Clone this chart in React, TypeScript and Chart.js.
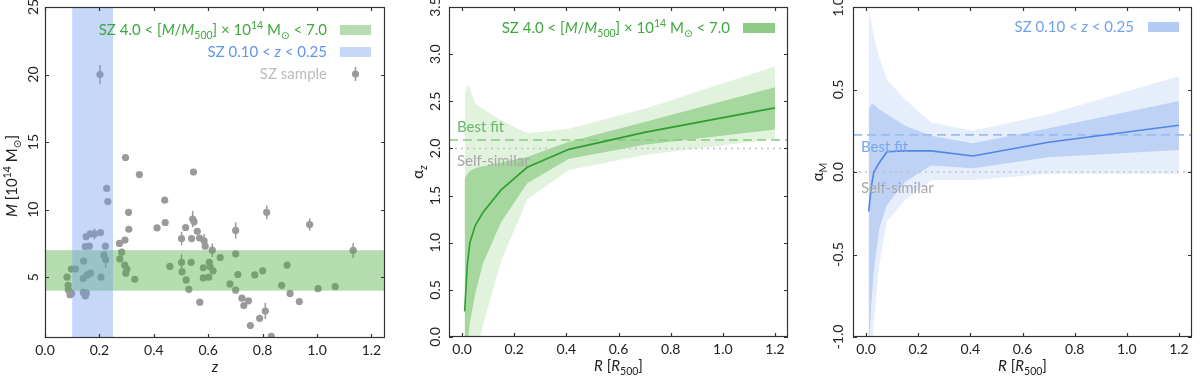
import React, { useEffect, useRef } from "react";
import { Chart, registerables } from "chart.js";

Chart.register(...registerables);

// ---------------- data ----------------
const szRedshift = [
  0.202, 0.296, 0.347, 0.546, 0.227, 0.231, 0.44, 0.307, 0.815, 0.442,
  0.543, 0.548, 0.973, 0.412, 0.308, 0.517, 0.701, 0.56, 0.166, 0.182,
  0.204, 0.151, 0.502, 0.539, 0.568, 0.585, 0.294, 0.274, 0.222, 0.163,
  0.148, 0.589, 0.615, 1.133, 0.701, 0.216, 0.282, 0.644, 0.223, 0.275,
  0.142, 0.537, 0.502, 0.604, 0.89, 0.293, 0.607, 0.459, 0.582, 0.097,
  0.112, 0.301, 0.504, 0.618, 0.8, 0.297, 0.709, 0.771, 0.167, 0.155,
  0.081, 0.206, 0.582, 0.602, 0.141, 0.33, 0.519, 0.68, 0.87, 0.085,
  1.067, 1.004, 0.529, 0.701, 0.086, 0.098, 0.092, 0.141, 0.152, 0.148,
  0.901, 0.724, 0.935, 0.748, 0.569, 0.731, 0.81, 0.789, 0.755, 0.832,
];
const szMass = [
  20.0, 13.86, 12.6, 12.78, 11.57, 10.6, 10.7, 9.8, 9.8, 9.05,
  9.3, 9.1, 8.9, 8.65, 8.55, 8.68, 8.46, 8.4, 8.2, 8.2,
  8.3, 8.0, 7.86, 7.86, 7.9, 7.7, 7.75, 7.5, 7.3, 7.3,
  7.27, 7.3, 7.0, 6.98, 6.73, 6.63, 6.85, 6.46, 6.3, 6.36,
  6.2, 6.1, 6.1, 6.1, 5.9, 5.9, 5.77, 5.8, 5.7, 5.6,
  5.6, 5.6, 5.4, 5.47, 5.47, 5.3, 5.2, 5.17, 5.3, 5.15,
  5.0, 5.0, 4.95, 5.0, 4.9, 4.85, 4.8, 4.5, 4.4, 4.4,
  4.3, 4.15, 4.1, 4.04, 4.06, 3.8, 3.7, 3.87, 3.82, 3.6,
  3.8, 3.45, 3.2, 3.25, 3.15, 2.9, 2.5, 1.96, 1.42, 0.63,
];
const szMassErr = [
  0.7, 0, 0, 0, 0, 0, 0, 0, 0.5, 0,
  0.6, 0, 0.45, 0, 0, 0, 0.6, 0, 0, 0.4,
  0, 0, 0.5, 0, 0, 0.5, 0, 0, 0, 0,
  0, 0, 0.5, 0.55, 0, 0, 0, 0, 0.6, 0,
  0, 0, 0.6, 0, 0, 0, 0, 0, 0, 0,
  0, 0, 0, 0, 0, 0, 0, 0, 0, 0,
  0, 0, 0, 0, 0, 0, 0, 0, 0, 0,
  0, 0, 0, 0, 0, 0, 0, 0, 0, 0,
  0, 0, 0, 0, 0, 0, 0.6, 0, 0, 0,
];
const massBin = [4.0, 7.0];
const redshiftBin = [0.1, 0.25];

const zTicks = [0, 0.2, 0.4, 0.6, 0.8, 1.0, 1.2];
const zTickLabels = ["0.0", "0.2", "0.4", "0.6", "0.8", "1.0", "1.2"];
const massTicks = [5, 10, 15, 20, 25];
const massTickLabels = ["5", "10", "15", "20", "25"];

const radius = [0.01, 0.02, 0.03, 0.05, 0.08, 0.15, 0.25, 0.41, 0.7, 1.2];

const alphaZMedian = [0.27, 0.76, 1.0, 1.18, 1.32, 1.56, 1.8, 1.99, 2.17, 2.43];
const alphaZ1Hi = [1.68, 1.73, 1.76, 1.79, 1.81, 1.85, 1.91, 2.07, 2.28, 2.65];
const alphaZ1Lo = [-0.6, -0.1, 0.15, 0.45, 0.78, 1.22, 1.63, 1.89, 2.04, 2.2];
const alphaZ2Hi = [2.55, 2.68, 2.63, 2.48, 2.42, 2.3, 2.16, 2.21, 2.42, 2.87];
const alphaZ2Lo = [-1.5, -1.0, -0.6, -0.22, 0.12, 0.81, 1.46, 1.77, 1.93, 2.1];
const alphaZBestFit = 2.09;
const alphaZSelfSimilar = 2.0;

const alphaMMedian = [-0.24, -0.09, 0.0, 0.055, 0.123, 0.128, 0.128, 0.097, 0.18, 0.283];
const alphaM1Hi = [0.38, 0.41, 0.41, 0.38, 0.35, 0.28, 0.22, 0.174, 0.265, 0.43];
const alphaM1Lo = [-1.1, -0.8, -0.6, -0.35, -0.2, -0.06, 0.04, 0.022, 0.089, 0.134];
const alphaM2Hi = [1.0, 0.92, 0.82, 0.7, 0.56, 0.44, 0.3, 0.25, 0.35, 0.58];
const alphaM2Lo = [-1.5, -1.2, -0.9, -0.57, -0.3, -0.17, -0.05, -0.05, -0.01, -0.01];
const alphaMBestFit = 0.225;
const alphaMSelfSimilar = 0.0;

const rTicks = [0, 0.2, 0.4, 0.6, 0.8, 1.0, 1.2];
const rTickLabels = ["0.0", "0.2", "0.4", "0.6", "0.8", "1.0", "1.2"];
const alphaZTicks = [0, 0.5, 1.0, 1.5, 2.0, 2.5, 3.0, 3.5];
const alphaZTickLabels = ["0.0", "0.5", "1.0", "1.5", "2.0", "2.5", "3.0", "3.5"];
const alphaMTicks = [-1.0, -0.5, 0, 0.5, 1.0];
const alphaMTickLabels = ["-1.0", "-0.5", "0.0", "0.5", "1.0"];

// ---------------- text helpers ----------------
type Seg = { t: string; i?: boolean; sub?: boolean; sup?: boolean };
const FAMILY = "Lato, 'Open Sans', 'DejaVu Sans', sans-serif";

function segFont(s: Seg, size: number) {
  const sz = s.sub || s.sup ? size * 0.7 : size;
  return `${s.i ? "italic " : ""}${sz}px ${FAMILY}`;
}
function richWidth(ctx: CanvasRenderingContext2D, segs: Seg[], size: number) {
  let w = 0;
  for (const s of segs) {
    ctx.font = segFont(s, size);
    w += ctx.measureText(s.t).width;
  }
  return w;
}
function drawRich(
  ctx: CanvasRenderingContext2D,
  segs: Seg[],
  x: number,
  y: number,
  size: number,
  color: string,
  align: "left" | "right" | "center" = "left",
  rotate = false
) {
  ctx.save();
  ctx.translate(x, y);
  if (rotate) ctx.rotate(-Math.PI / 2);
  const w = richWidth(ctx, segs, size);
  let cx = align === "left" ? 0 : align === "right" ? -w : -w / 2;
  ctx.fillStyle = color;
  ctx.textBaseline = "alphabetic";
  ctx.textAlign = "left";
  for (const s of segs) {
    ctx.font = segFont(s, size);
    const dy = s.sub ? size * 0.25 : s.sup ? -size * 0.4 : 0;
    ctx.fillText(s.t, cx, dy);
    cx += ctx.measureText(s.t).width;
  }
  ctx.restore();
}

const massLegend: Seg[] = [
  { t: "SZ 4.0 < [" },
  { t: "M", i: true },
  { t: "/" },
  { t: "M", i: true },
  { t: "500", sub: true },
  { t: "] × 10" },
  { t: "14", sup: true },
  { t: " M" },
  { t: "⊙", sub: true },
  { t: " < 7.0" },
];
const redshiftLegend: Seg[] = [{ t: "SZ 0.10 < " }, { t: "z", i: true }, { t: " < 0.25" }];
const sampleLegend: Seg[] = [{ t: "SZ sample" }];
const massTitle: Seg[] = [
  { t: "M", i: true },
  { t: " [10" },
  { t: "14", sup: true },
  { t: " M" },
  { t: "⊙", sub: true },
  { t: "]" },
];
const zTitle: Seg[] = [{ t: "z", i: true }];
const rTitle: Seg[] = [{ t: "R", i: true }, { t: " [" }, { t: "R", i: true }, { t: "500", sub: true }, { t: "]" }];
const alphaZTitle: Seg[] = [{ t: "α" }, { t: "z", i: true, sub: true }];
const alphaMTitle: Seg[] = [{ t: "α" }, { t: "M", sub: true }];

// ---------------- axes decoration plugin ----------------
type AxesOpts = {
  xTicks: number[];
  xLabels: string[];
  yTicks: number[];
  yLabels: string[];
  yLabelGap: number;
  xTitle: Seg[];
  yTitle: Seg[];
  yTitleX: number;
  yTitleY: number;
  extra?: (chart: any) => void;
};
function axesPlugin(o: AxesOpts) {
  return {
    id: "axesDecor",
    afterDraw(chart: any) {
      const ctx: CanvasRenderingContext2D = chart.ctx;
      const { left, right, top, bottom } = chart.chartArea;
      const x = chart.scales.x;
      const y = chart.scales.y;
      if (o.extra) o.extra(chart);
      ctx.save();
      ctx.strokeStyle = "#333";
      ctx.lineWidth = 1.2;
      ctx.strokeRect(left + 0.5, top + 0.5, right - left - 1, bottom - top - 1);
      const tl = 4;
      ctx.beginPath();
      o.xTicks.forEach((v) => {
        const px = Math.round(x.getPixelForValue(v)) + 0.5;
        ctx.moveTo(px, bottom);
        ctx.lineTo(px, bottom - tl);
        ctx.moveTo(px, top);
        ctx.lineTo(px, top + tl);
      });
      o.yTicks.forEach((v) => {
        const py = Math.round(y.getPixelForValue(v)) + 0.5;
        ctx.moveTo(left, py);
        ctx.lineTo(left + tl, py);
        ctx.moveTo(right, py);
        ctx.lineTo(right - tl, py);
      });
      ctx.stroke();
      ctx.fillStyle = "#222";
      ctx.font = `14px ${FAMILY}`;
      ctx.textAlign = "center";
      ctx.textBaseline = "alphabetic";
      o.xTicks.forEach((v, i) => {
        ctx.fillText(o.xLabels[i], x.getPixelForValue(v), bottom + 17);
      });
      o.yTicks.forEach((v, i) => {
        ctx.save();
        ctx.translate(left - o.yLabelGap, y.getPixelForValue(v));
        ctx.rotate(-Math.PI / 2);
        ctx.fillText(o.yLabels[i], 0, 0);
        ctx.restore();
      });
      drawRich(ctx, o.xTitle, (left + right) / 2, bottom + 34, 15, "#222", "center");
      drawRich(ctx, o.yTitle, o.yTitleX, o.yTitleY, 15, "#222", "center", true);
      ctx.restore();
    },
  };
}

function drawRefLines(chart: any, best: number, self: number, bestColor: string) {
  const ctx: CanvasRenderingContext2D = chart.ctx;
  const { left, right } = chart.chartArea;
  const y = chart.scales.y;
  ctx.save();
  ctx.lineWidth = 1.6;
  ctx.setLineDash([2, 4]);
  ctx.strokeStyle = "#c2c2c2";
  ctx.beginPath();
  ctx.moveTo(left, y.getPixelForValue(self));
  ctx.lineTo(right, y.getPixelForValue(self));
  ctx.stroke();
  ctx.setLineDash([9, 5]);
  ctx.strokeStyle = bestColor;
  ctx.beginPath();
  ctx.moveTo(left, y.getPixelForValue(best));
  ctx.lineTo(right, y.getPixelForValue(best));
  ctx.stroke();
  ctx.restore();
}

const pts = (xs: number[], ys: number[]) => xs.map((v, i) => ({ x: v, y: ys[i] }));

const baseOptions = (pad: any, xr: number[], yr: number[]) => ({
  responsive: false,
  animation: false as const,
  events: [] as any[],
  layout: { padding: pad },
  scales: {
    x: { type: "linear" as const, min: xr[0], max: xr[1], display: false },
    y: { type: "linear" as const, min: yr[0], max: yr[1], display: false },
  },
  plugins: { legend: { display: false }, tooltip: { enabled: false } },
});

function bandSet(data: any[], fill: any, color: string) {
  return {
    data,
    borderColor: "rgba(0,0,0,0)",
    borderWidth: 0,
    pointRadius: 0,
    fill,
    backgroundColor: color,
    tension: 0,
  };
}

export default function App() {
  const r1 = useRef<HTMLCanvasElement>(null);
  const r2 = useRef<HTMLCanvasElement>(null);
  const r3 = useRef<HTMLCanvasElement>(null);

  useEffect(() => {
    const green = "#3fa83f";
    const blue = "#5f95ec";
    // ---------- panel 1 ----------
    const c1 = new Chart(r1.current as HTMLCanvasElement, {
      type: "scatter",
      data: {
        datasets: [
          {
            data: pts(szRedshift, szMass),
            pointRadius: 3.6,
            pointHoverRadius: 3.6,
            backgroundColor: "#9a9a9a",
            borderWidth: 0,
          },
        ],
      },
      options: baseOptions({ left: 45, right: 15, top: 7, bottom: 40 }, [0, 1.25], [0.5, 25]) as any,
      plugins: [
        {
          id: "errBars",
          beforeDatasetsDraw(chart: any) {
            const ctx: CanvasRenderingContext2D = chart.ctx;
            const x = chart.scales.x;
            const y = chart.scales.y;
            ctx.save();
            ctx.strokeStyle = "#9a9a9a";
            ctx.lineWidth = 1.5;
            szMassErr.forEach((e, i) => {
              if (!e) return;
              const px = x.getPixelForValue(szRedshift[i]);
              ctx.beginPath();
              ctx.moveTo(px, y.getPixelForValue(szMass[i] - e));
              ctx.lineTo(px, y.getPixelForValue(szMass[i] + e));
              ctx.stroke();
            });
            ctx.restore();
          },
          afterDatasetsDraw(chart: any) {
            const ctx: CanvasRenderingContext2D = chart.ctx;
            const { left, right, top, bottom } = chart.chartArea;
            const x = chart.scales.x;
            const y = chart.scales.y;
            ctx.save();
            ctx.fillStyle = "rgba(70,170,58,0.4)";
            const m0 = y.getPixelForValue(massBin[1]);
            const m1 = y.getPixelForValue(massBin[0]);
            ctx.fillRect(left, m0, right - left, m1 - m0);
            ctx.fillStyle = "rgba(112,157,235,0.4)";
            const z0 = x.getPixelForValue(redshiftBin[0]);
            const z1 = x.getPixelForValue(redshiftBin[1]);
            ctx.fillRect(z0, top, z1 - z0, bottom - top);
            ctx.restore();
          },
        },
        axesPlugin({
          xTicks: zTicks,
          xLabels: zTickLabels,
          yTicks: massTicks,
          yLabels: massTickLabels,
          yLabelGap: 7,
          xTitle: zTitle,
          yTitle: massTitle,
          yTitleX: 17,
          yTitleY: 176,
          extra: (chart: any) => {
            const ctx: CanvasRenderingContext2D = chart.ctx;
            drawRich(ctx, massLegend, 327, 35, 15, green, "right");
            drawRich(ctx, redshiftLegend, 327, 57, 15, blue, "right");
            drawRich(ctx, sampleLegend, 327, 79, 15, "#bbbbbb", "right");
            ctx.save();
            ctx.fillStyle = "rgba(70,170,58,0.4)";
            ctx.fillRect(340, 25, 31, 10);
            ctx.fillStyle = "rgba(112,157,235,0.4)";
            ctx.fillRect(340, 47, 31, 10);
            ctx.strokeStyle = "#9a9a9a";
            ctx.lineWidth = 1.5;
            ctx.beginPath();
            ctx.moveTo(355.5, 67);
            ctx.lineTo(355.5, 81);
            ctx.stroke();
            ctx.fillStyle = "#9a9a9a";
            ctx.beginPath();
            ctx.arc(355.5, 74, 3.6, 0, Math.PI * 2);
            ctx.fill();
            ctx.restore();
          },
        }),
      ],
    });

    // ---------- panel 2 ----------
    const g1 = "#a6d79e";
    const g2 = "#e1f2dd";
    const c2 = new Chart(r2.current as HTMLCanvasElement, {
      type: "line",
      data: {
        datasets: [
          {
            data: pts(radius, alphaZMedian),
            borderColor: "#2e9e2e",
            borderWidth: 1.6,
            pointRadius: 0,
            fill: false,
            tension: 0,
          },
          bandSet(pts(radius, alphaZ1Hi), "+1", g1),
          bandSet(pts(radius, alphaZ1Lo), false, g1),
          bandSet(pts(radius, alphaZ2Hi), "+1", g2),
          bandSet(pts(radius, alphaZ2Lo), false, g2),
        ] as any,
      },
      options: baseOptions({ left: 49, right: 12, top: 7, bottom: 41 }, [-0.05, 1.25], [0, 3.5]) as any,
      plugins: [
        {
          id: "refLines",
          afterDatasetDraw(chart: any, args: any) {
            if (args.index === 1) drawRefLines(chart, alphaZBestFit, alphaZSelfSimilar, "#86cc80");
          },
        },
        axesPlugin({
          xTicks: rTicks,
          xLabels: rTickLabels,
          yTicks: alphaZTicks,
          yLabels: alphaZTickLabels,
          yLabelGap: 9,
          xTitle: rTitle,
          yTitle: alphaZTitle,
          yTitleX: 23,
          yTitleY: 172,
          extra: (chart: any) => {
            const ctx: CanvasRenderingContext2D = chart.ctx;
            const y = chart.scales.y;
            const left = chart.chartArea.left;
            drawRich(ctx, [{ t: "Best fit" }], left + 8, y.getPixelForValue(alphaZBestFit) - 8, 15, "#66bb66");
            drawRich(ctx, [{ t: "Self-similar" }], left + 8, y.getPixelForValue(alphaZSelfSimilar) + 18, 15, "#a8a8a8");
            drawRich(ctx, massLegend, 330, 33, 15, green, "right");
            ctx.fillStyle = "#8dcb86";
            ctx.fillRect(343, 23, 32, 10);
          },
        }),
      ],
    });

    // ---------- panel 3 ----------
    const b1 = "#bed2f6";
    const b2 = "#e6eefc";
    const c3 = new Chart(r3.current as HTMLCanvasElement, {
      type: "line",
      data: {
        datasets: [
          {
            data: pts(radius, alphaMMedian),
            borderColor: "#4f86e6",
            borderWidth: 1.6,
            pointRadius: 0,
            fill: false,
            tension: 0,
          },
          bandSet(pts(radius, alphaM1Hi), "+1", b1),
          bandSet(pts(radius, alphaM1Lo), false, b1),
          bandSet(pts(radius, alphaM2Hi), "+1", b2),
          bandSet(pts(radius, alphaM2Lo), false, b2),
        ] as any,
      },
      options: baseOptions({ left: 53, right: 8, top: 7, bottom: 41 }, [-0.05, 1.25], [-1, 1]) as any,
      plugins: [
        {
          id: "refLines",
          afterDatasetDraw(chart: any, args: any) {
            if (args.index === 1) drawRefLines(chart, alphaMBestFit, alphaMSelfSimilar, "#9bbcf2");
          },
        },
        axesPlugin({
          xTicks: rTicks,
          xLabels: rTickLabels,
          yTicks: alphaMTicks,
          yLabels: alphaMTickLabels,
          yLabelGap: 10,
          xTitle: rTitle,
          yTitle: alphaMTitle,
          yTitleX: 23,
          yTitleY: 172,
          extra: (chart: any) => {
            const ctx: CanvasRenderingContext2D = chart.ctx;
            const y = chart.scales.y;
            const left = chart.chartArea.left;
            drawRich(ctx, [{ t: "Best fit" }], left + 8, y.getPixelForValue(alphaMBestFit) + 17, 15, "#7aa6ee");
            drawRich(ctx, [{ t: "Self-similar" }], left + 8, y.getPixelForValue(alphaMSelfSimilar) + 21, 15, "#a8a8a8");
            drawRich(ctx, redshiftLegend, 334, 32, 15, "#6f9ff0", "right");
            ctx.fillStyle = "#b3cbf4";
            ctx.fillRect(348, 22, 31, 10);
          },
        }),
      ],
    });

    return () => {
      c1.destroy();
      c2.destroy();
      c3.destroy();
    };
  }, []);

  const cv = (left: number): React.CSSProperties => ({
    position: "absolute",
    left,
    top: 0,
    width: 400,
    height: 378,
  });

  return (
    <div style={{ position: "fixed", left: 0, top: 0, width: 1200, height: 378, background: "#fff" }}>
      <canvas ref={r1} width={400} height={378} style={cv(0)} />
      <canvas ref={r2} width={400} height={378} style={cv(400)} />
      <canvas ref={r3} width={400} height={378} style={cv(800)} />
    </div>
  );
}
